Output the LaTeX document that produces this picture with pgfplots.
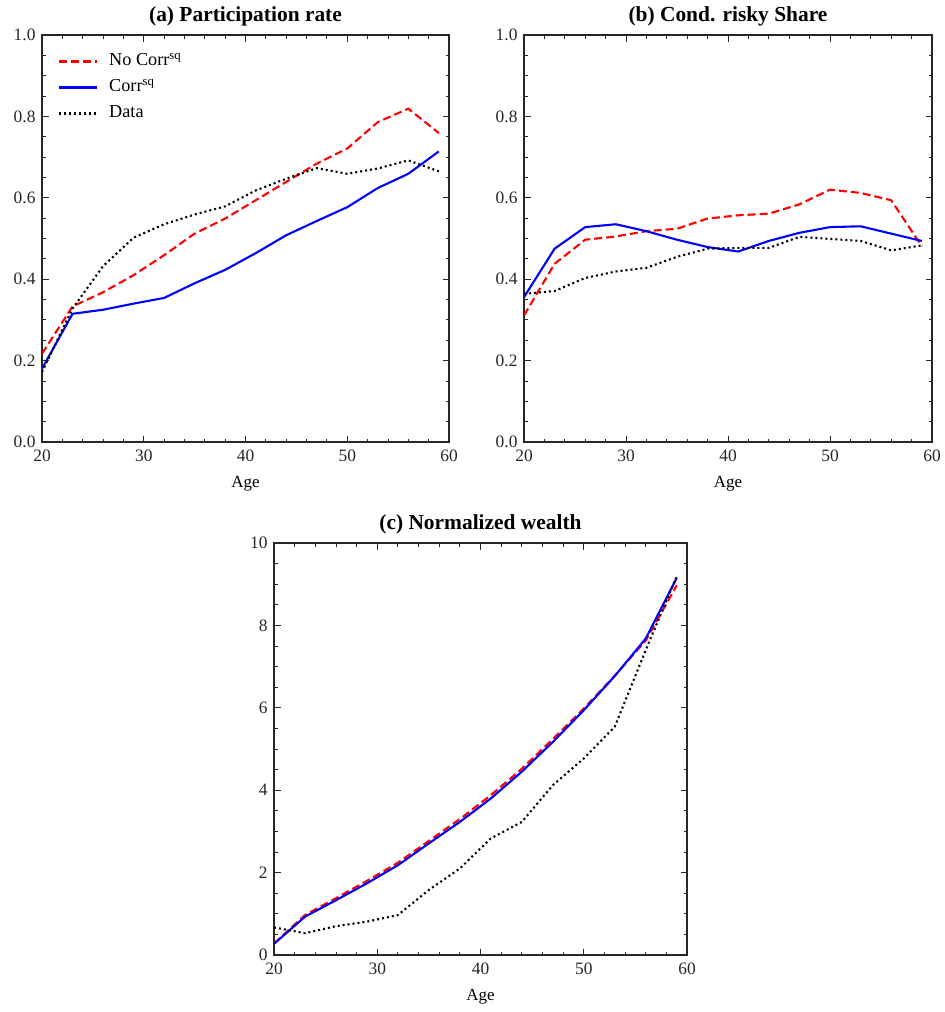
\documentclass[border=0pt]{standalone}
\usepackage{fontspec}
\setmainfont{Liberation Serif}
\usepackage{pgfplots}
\pgfplotsset{compat=1.18}

\pgfplotsset{
  lifecycle/.style={
    scale only axis,
    xmin=20, xmax=60,
    xtick={20,30,40,50,60},
    minor x tick num=4,
    tick align=inside,
    major tick length=6.5bp,
    minor tick length=3.5bp,
    tick style={line width=0.9bp, black!85},
    axis line style={line width=1.1bp, black!85},
    /pgf/number format/assume math mode=true,
    tick label style={font=\fontsize{17.4bp}{19bp}\selectfont, black!85},
    xticklabel style={yshift=-4bp},
    yticklabel style={xshift=-3bp},
    xlabel={Age},
    xlabel style={font=\fontsize{17bp}{19bp}\selectfont, at={(0.5,0)}, anchor=base, yshift=-45bp},
    every axis title shift=0pt,
    title style={font=\bfseries\fontsize{21.5}{23}\selectfont, at={(0.5,1)}, anchor=base, yshift=14bp},
    every axis plot/.append style={line width=2.1bp},
  },
  nocorr/.style={red, dash pattern=on 8bp off 4bp},
  corr/.style={blue, solid},
  data/.style={black, dash pattern=on 2bp off 3bp},
}

\begin{document}
\begin{tikzpicture}[x=1bp,y=1bp]
\path[use as bounding box] (0,0) rectangle (945,-1012);

% (a) participation
\begin{axis}[lifecycle,
  at={(42bp,-442bp)}, anchor=south west,
  width=407bp, height=407bp,
  ymin=0, ymax=1, ytick={0,0.2,0.4,0.6,0.8,1.0}, minor y tick num=3,
  yticklabel style={/pgf/number format/.cd, fixed, fixed zerofill, precision=1},
  title={(a) Participation rate},
  legend style={draw=none, fill=none, at={(0.039,0.955)}, anchor=north west,
    font=\fontsize{18.3}{20}\selectfont, row sep=10bp, column sep=11bp, inner sep=0pt,
    nodes={inner sep=0pt, text height=12bp, text depth=4bp}},
  legend cell align=left,
  legend image code/.code={\draw[#1] (0bp,0bp) -- (38bp,0bp);},
]
\addplot[nocorr] coordinates {
 (20,0.217) (23,0.333) (26,0.368) (29,0.410) (32,0.459) (35,0.512) (38,0.549)
 (41,0.594) (44,0.639) (47,0.684) (50,0.721) (53,0.786) (56,0.819) (59,0.759)};
\addlegendentry{No Corr\textsuperscript{sq}}
\addplot[corr] coordinates {
 (20,0.180) (23,0.315) (26,0.325) (29,0.340) (32,0.354) (35,0.390) (38,0.423)
 (41,0.464) (44,0.508) (47,0.543) (50,0.577) (53,0.624) (56,0.659) (59,0.714)};
\addlegendentry{Corr\textsuperscript{sq}}
\addplot[data] coordinates {
 (20,0.172) (23,0.328) (26,0.432) (29,0.502) (32,0.535) (35,0.559) (38,0.579)
 (41,0.618) (44,0.647) (47,0.673) (50,0.659) (53,0.672) (56,0.692) (59,0.665)};
\addlegendentry{Data}
\end{axis}

% (b) conditional risky share
\begin{axis}[lifecycle,
  at={(524bp,-442bp)}, anchor=south west,
  width=408bp, height=407bp,
  ymin=0, ymax=1, ytick={0,0.2,0.4,0.6,0.8,1.0}, minor y tick num=3,
  yticklabel style={/pgf/number format/.cd, fixed, fixed zerofill, precision=1},
  title={(b) Cond. risky Share},
]
\addplot[nocorr] coordinates {
 (20,0.311) (23,0.438) (26,0.497) (29,0.505) (32,0.518) (35,0.524) (38,0.549)
 (41,0.557) (44,0.561) (47,0.584) (50,0.620) (53,0.612) (56,0.594) (59,0.481)};
\addplot[corr] coordinates {
 (20,0.356) (23,0.475) (26,0.528) (29,0.535) (32,0.518) (35,0.497) (38,0.479)
 (41,0.468) (44,0.494) (47,0.514) (50,0.528) (53,0.530) (56,0.512) (59,0.494)};
\addplot[data] coordinates {
 (20,0.364) (23,0.371) (26,0.403) (29,0.419) (32,0.428) (35,0.455) (38,0.475)
 (41,0.477) (44,0.477) (47,0.504) (50,0.499) (53,0.494) (56,0.471) (59,0.483)};
\end{axis}

% (c) normalized wealth
\begin{axis}[lifecycle,
  at={(274bp,-955bp)}, anchor=south west,
  width=413bp, height=412bp,
  ymin=0, ymax=10, ytick={0,2,4,6,8,10}, minor y tick num=3,
  title={(c) Normalized wealth},
]
\addplot[nocorr] coordinates {
 (20,0.28) (23,0.97) (26,1.38) (29,1.80) (32,2.24) (35,2.77) (38,3.30)
 (41,3.88) (44,4.52) (47,5.24) (50,5.98) (53,6.78) (56,7.63) (59,8.97)};
\addplot[corr] coordinates {
 (20,0.27) (23,0.93) (26,1.33) (29,1.74) (32,2.18) (35,2.71) (38,3.23)
 (41,3.80) (44,4.45) (47,5.17) (50,5.94) (53,6.77) (56,7.68) (59,9.15)};
\addplot[data] coordinates {
 (20,0.67) (23,0.53) (26,0.70) (29,0.81) (32,0.97) (35,1.58) (38,2.10)
 (41,2.83) (44,3.23) (47,4.12) (50,4.77) (53,5.54) (56,7.40) (59,9.19)};
\end{axis}
\end{tikzpicture}
\end{document}
